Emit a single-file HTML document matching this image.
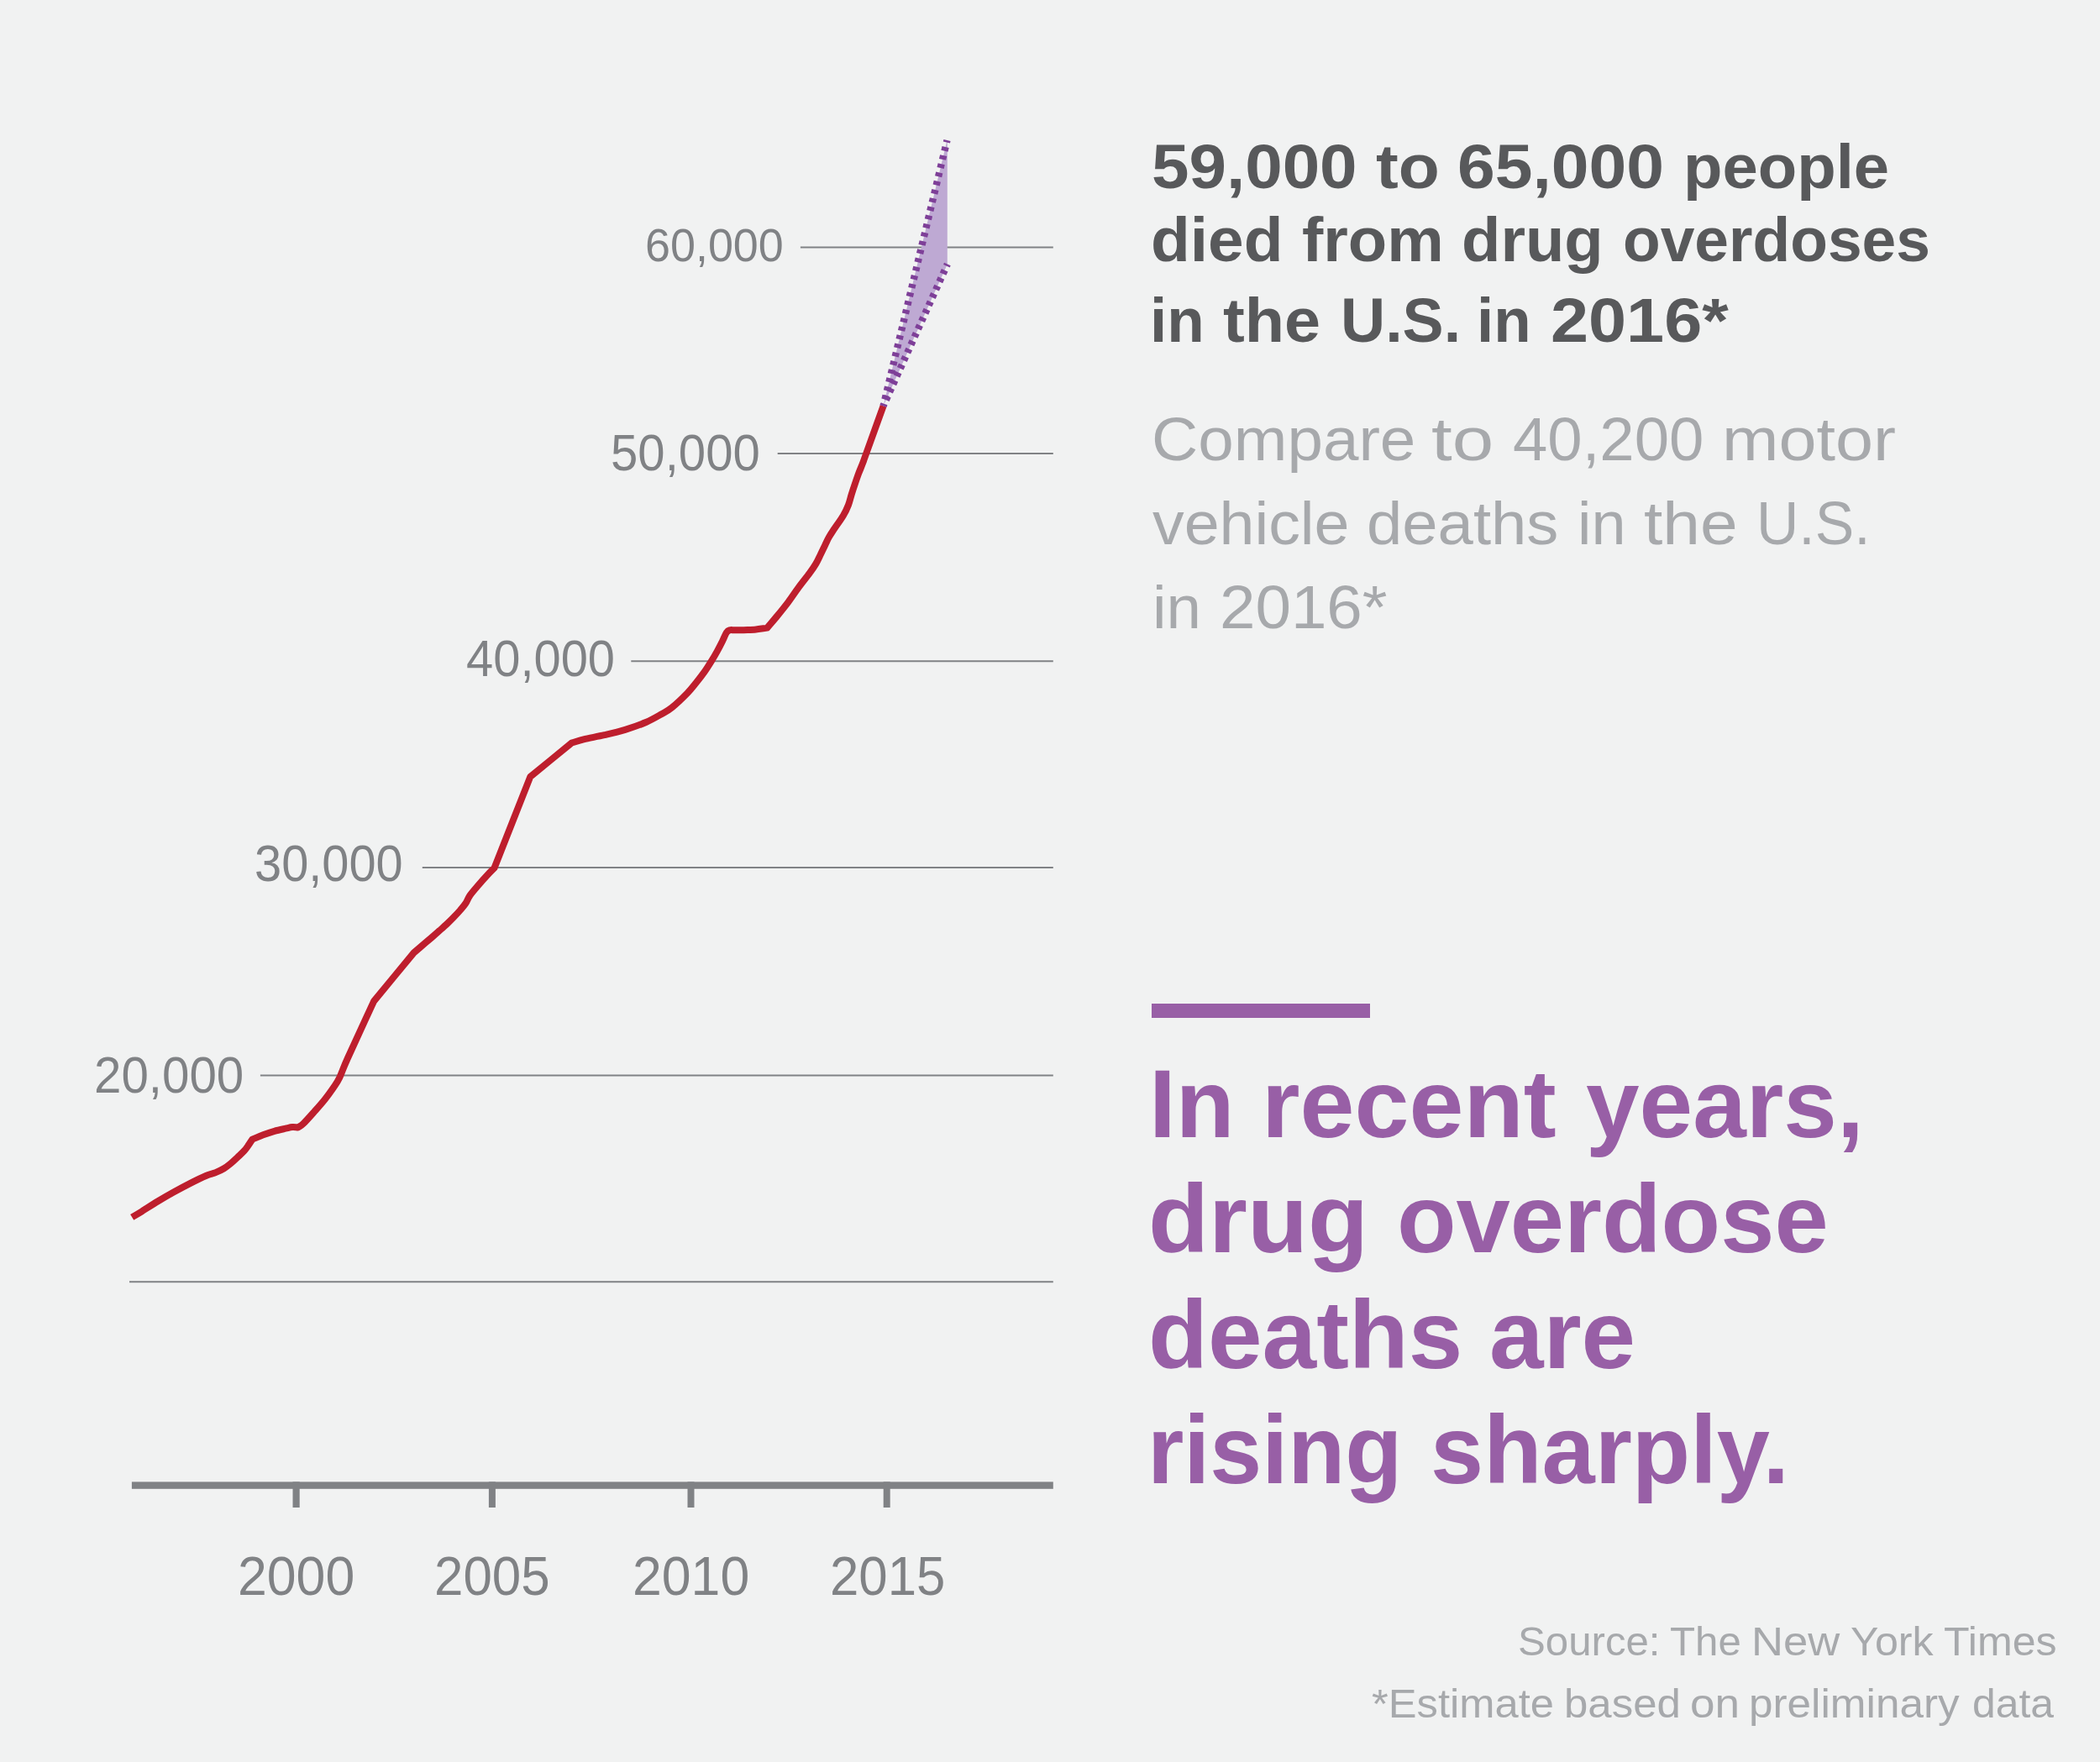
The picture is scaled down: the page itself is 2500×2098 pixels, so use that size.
<!DOCTYPE html>
<html><head><meta charset="utf-8"><title>Drug overdose deaths</title>
<style>
html,body{margin:0;padding:0;background:#f1f2f2;}
body{width:2500px;height:2098px;position:relative;overflow:hidden;font-family:"Liberation Sans",sans-serif;}
.c{position:absolute;left:0;top:0;}
.t{position:absolute;white-space:pre;line-height:1;transform-origin:0 0;}
</style></head><body>
<svg class="c" width="2500" height="2098" viewBox="0 0 2500 2098">
<g stroke="#808285" stroke-width="2" fill="none">
<line x1="952.9" y1="294.5" x2="1253.8" y2="294.5"/>
<line x1="925.7" y1="540.0" x2="1253.8" y2="540.0"/>
<line x1="751.3" y1="787.3" x2="1253.8" y2="787.3"/>
<line x1="502.8" y1="1033.1" x2="1253.8" y2="1033.1"/>
<line x1="309.9" y1="1280.4" x2="1253.8" y2="1280.4"/>
<line x1="154.0" y1="1526.3" x2="1253.8" y2="1526.3"/>
</g>
<rect x="156.9" y="1764.4" width="1096.9" height="8.4" fill="#808285"/>
<rect x="348.5" y="1764.4" width="8.2" height="30.6" fill="#808285"/>
<rect x="581.9" y="1764.4" width="8.0" height="30.6" fill="#808285"/>
<rect x="818.5" y="1764.4" width="8.0" height="30.6" fill="#808285"/>
<rect x="1051.7" y="1764.4" width="8.0" height="30.6" fill="#808285"/>
<polygon points="1051.60,483.30 1127.49,167.09 1127.8,167.09 1127.8,314.52 1127.88,314.52" fill="#bea9d3"/>
<path d="M157.20,1449.40 C161.13,1447.03 163.85,1445.48 169.00,1442.30 C174.15,1439.12 181.75,1434.13 188.10,1430.30 C194.45,1426.47 200.75,1422.83 207.10,1419.30 C213.45,1415.77 219.85,1412.32 226.20,1409.10 C232.55,1405.88 240.12,1402.17 245.20,1400.00 C250.28,1397.83 253.12,1397.57 256.70,1396.10 C260.28,1394.63 263.73,1392.97 266.70,1391.20 C269.67,1389.43 271.80,1387.73 274.50,1385.50 C277.20,1383.27 280.20,1380.33 282.90,1377.80 C285.60,1375.27 288.53,1372.70 290.70,1370.30 C292.87,1367.90 294.30,1365.67 295.90,1363.40 C297.50,1361.13 298.83,1358.93 300.30,1356.70 C304.63,1354.90 308.90,1352.95 313.30,1351.30 C317.70,1349.65 322.25,1348.07 326.70,1346.80 C331.15,1345.53 336.45,1344.48 340.00,1343.70 C343.55,1342.92 345.55,1342.30 348.00,1342.10 C350.45,1341.90 352.47,1342.37 354.70,1342.50 C356.93,1340.87 358.12,1340.78 361.40,1337.60 C364.68,1334.42 370.20,1328.13 374.40,1323.40 C378.60,1318.67 382.83,1313.93 386.60,1309.20 C390.37,1304.47 394.05,1299.37 397.00,1295.00 C399.95,1290.63 401.48,1288.83 404.30,1283.00 C407.12,1277.17 407.10,1275.15 413.90,1260.00 C420.70,1244.85 434.70,1214.73 445.10,1192.10 C460.97,1172.87 476.83,1153.63 492.70,1134.40 C499.83,1128.30 509.02,1120.48 514.10,1116.10 C519.18,1111.72 520.18,1110.78 523.20,1108.10 C526.22,1105.42 529.40,1102.63 532.20,1100.00 C535.00,1097.37 537.35,1095.05 540.00,1092.30 C542.65,1089.55 545.67,1086.33 548.10,1083.50 C550.53,1080.67 552.70,1078.20 554.60,1075.30 C556.50,1072.40 556.97,1069.72 559.50,1066.10 C562.03,1062.48 566.17,1057.82 569.80,1053.60 C573.43,1049.38 578.18,1044.15 581.30,1040.80 C584.42,1037.45 586.10,1035.93 588.50,1033.50 C602.77,997.30 617.03,961.10 631.30,924.90 C647.70,911.47 664.10,898.03 680.50,884.60 C685.27,883.17 688.30,881.87 694.80,880.30 C701.30,878.73 711.25,877.10 719.50,875.20 C727.75,873.30 736.05,871.43 744.30,868.90 C752.55,866.37 761.78,863.12 769.00,860.00 C776.22,856.88 782.43,853.13 787.60,850.20 C792.77,847.27 794.92,846.52 800.00,842.40 C805.08,838.28 813.32,830.40 818.10,825.50 C822.88,820.60 825.27,817.27 828.70,813.00 C832.13,808.73 835.68,804.17 838.70,799.90 C841.72,795.63 844.30,791.45 846.80,787.40 C849.30,783.35 851.52,779.55 853.70,775.60 C855.88,771.65 858.03,767.45 859.90,763.70 C861.77,759.95 863.43,755.33 864.90,753.10 C866.37,750.87 867.13,750.77 868.70,750.30 C870.27,749.83 872.33,750.30 874.30,750.30 C876.27,750.30 877.90,750.35 880.50,750.30 C883.10,750.25 886.65,750.15 889.90,750.00 C893.15,749.85 896.88,749.68 900.00,749.40 C903.12,749.12 906.38,748.60 908.60,748.30 C910.82,748.00 911.73,747.83 913.30,747.60 C917.43,742.70 921.48,738.07 925.70,732.90 C929.92,727.73 934.45,722.15 938.60,716.60 C942.75,711.05 946.40,705.30 950.60,699.60 C954.80,693.90 960.33,687.15 963.80,682.40 C967.27,677.65 969.18,674.88 971.40,671.10 C973.62,667.32 975.25,663.48 977.10,659.70 C978.95,655.92 980.90,651.70 982.50,648.40 C984.10,645.10 985.10,642.75 986.70,639.90 C988.30,637.05 989.22,635.67 992.10,631.30 C994.98,626.93 1001.02,618.72 1004.00,613.70 C1006.98,608.68 1008.38,605.37 1010.00,601.20 C1011.62,597.03 1012.40,592.87 1013.70,588.70 C1015.00,584.53 1016.38,580.37 1017.80,576.20 C1019.22,572.03 1020.63,567.87 1022.20,563.70 C1023.77,559.53 1025.70,555.15 1027.20,551.20 C1028.70,547.25 1027.13,551.32 1031.20,540.00 C1035.27,528.68 1044.80,502.20 1051.60,483.30" fill="none" stroke="#be1e2d" stroke-width="8" stroke-linejoin="round" stroke-linecap="butt"/>
<line x1="1051.6" y1="483.3" x2="1127.49" y2="167.09" stroke="#7e3f98" stroke-width="8.4" stroke-dasharray="4.9 5.59" stroke-dashoffset="2.45"/>
<line x1="1051.6" y1="483.3" x2="1127.88" y2="314.52" stroke="#7e3f98" stroke-width="8.4" stroke-dasharray="4.9 5.39" stroke-dashoffset="2.45"/>
<rect x="1371" y="1195" width="260" height="17" fill="#985fa6"/>
</svg>
<div class="t" style="left:767.59px;top:264.40px;font-size:56.3px;font-weight:400;color:#808285;transform:scaleX(0.9568)">60,000</div>
<div class="t" style="left:727.07px;top:509.30px;font-size:60.3px;font-weight:400;color:#808285;transform:scaleX(0.9641)">50,000</div>
<div class="t" style="left:554.84px;top:754.10px;font-size:60.3px;font-weight:400;color:#808285;transform:scaleX(0.9599)">40,000</div>
<div class="t" style="left:302.88px;top:998.30px;font-size:60.3px;font-weight:400;color:#808285;transform:scaleX(0.9580)">30,000</div>
<div class="t" style="left:112.30px;top:1250.10px;font-size:60.3px;font-weight:400;color:#808285;transform:scaleX(0.9667)">20,000</div>
<div class="t" style="left:282.74px;top:1844.00px;font-size:65.6px;font-weight:400;color:#808285;transform:scaleX(0.9539)">2000</div>
<div class="t" style="left:516.67px;top:1844.00px;font-size:65.6px;font-weight:400;color:#808285;transform:scaleX(0.9433)">2005</div>
<div class="t" style="left:752.74px;top:1844.00px;font-size:65.6px;font-weight:400;color:#808285;transform:scaleX(0.9539)">2010</div>
<div class="t" style="left:987.88px;top:1844.00px;font-size:65.6px;font-weight:400;color:#808285;transform:scaleX(0.9411)">2015</div>
<div class="t" style="left:1370.94px;top:162.20px;font-size:74px;font-weight:700;color:#58595b;transform:scaleX(1.0806)">59,000</div>
<div class="t" style="left:1638.20px;top:162.20px;font-size:74px;font-weight:700;color:#58595b;transform:scaleX(1.0851)">to</div>
<div class="t" style="left:1735.03px;top:162.20px;font-size:74px;font-weight:700;color:#58595b;transform:scaleX(1.0869)">65,000</div>
<div class="t" style="left:2003.59px;top:162.20px;font-size:74px;font-weight:700;color:#58595b;transform:scaleX(1.0280)">people</div>
<div class="t" style="left:1370.19px;top:249.00px;font-size:74px;font-weight:700;color:#58595b;transform:scaleX(1.0352)">died</div>
<div class="t" style="left:1550.47px;top:249.00px;font-size:74px;font-weight:700;color:#58595b;transform:scaleX(1.0264)">from</div>
<div class="t" style="left:1740.42px;top:249.00px;font-size:74px;font-weight:700;color:#58595b;transform:scaleX(1.0261)">drug</div>
<div class="t" style="left:1931.62px;top:249.00px;font-size:74px;font-weight:700;color:#58595b;transform:scaleX(0.9885)">overdoses</div>
<div class="t" style="left:1369.28px;top:344.60px;font-size:74px;font-weight:700;color:#58595b;transform:scaleX(0.9842)">in</div>
<div class="t" style="left:1456.00px;top:344.60px;font-size:74px;font-weight:700;color:#58595b;transform:scaleX(1.0459)">the</div>
<div class="t" style="left:1595.72px;top:344.60px;font-size:74px;font-weight:700;color:#58595b;transform:scaleX(0.9941)">U.S.</div>
<div class="t" style="left:1758.19px;top:344.60px;font-size:74px;font-weight:700;color:#58595b;transform:scaleX(0.9825)">in</div>
<div class="t" style="left:1845.61px;top:344.60px;font-size:74px;font-weight:700;color:#58595b;transform:scaleX(1.0948)">2016*</div>
<div class="t" style="left:1371.06px;top:486.00px;font-size:73px;font-weight:400;color:#a7a9ac;transform:scaleX(1.0471)">Compare</div>
<div class="t" style="left:1704.48px;top:486.00px;font-size:73px;font-weight:400;color:#a7a9ac;transform:scaleX(1.2175)">to</div>
<div class="t" style="left:1801.28px;top:486.00px;font-size:73px;font-weight:400;color:#a7a9ac;transform:scaleX(1.0182)">40,200</div>
<div class="t" style="left:2050.36px;top:486.00px;font-size:73px;font-weight:400;color:#a7a9ac;transform:scaleX(1.1093)">motor</div>
<div class="t" style="left:1371.90px;top:585.60px;font-size:73px;font-weight:400;color:#a7a9ac;transform:scaleX(1.0320)">vehicle</div>
<div class="t" style="left:1627.17px;top:585.60px;font-size:73px;font-weight:400;color:#a7a9ac;transform:scaleX(1.0421)">deaths</div>
<div class="t" style="left:1878.15px;top:585.60px;font-size:73px;font-weight:400;color:#a7a9ac;transform:scaleX(1.0122)">in</div>
<div class="t" style="left:1956.90px;top:585.60px;font-size:73px;font-weight:400;color:#a7a9ac;transform:scaleX(1.1010)">the</div>
<div class="t" style="left:2090.73px;top:585.60px;font-size:73px;font-weight:400;color:#a7a9ac;transform:scaleX(0.9550)">U.S.</div>
<div class="t" style="left:1371.82px;top:685.80px;font-size:73px;font-weight:400;color:#a7a9ac;transform:scaleX(1.0204)">in</div>
<div class="t" style="left:1452.16px;top:685.80px;font-size:73px;font-weight:400;color:#a7a9ac;transform:scaleX(1.0455)">2016*</div>
<div class="t" style="left:1367.75px;top:1257.00px;font-size:115px;font-weight:700;color:#985fa6;transform:scaleX(0.9933)">In</div>
<div class="t" style="left:1501.69px;top:1257.00px;font-size:115px;font-weight:700;color:#985fa6;transform:scaleX(1.0160)">recent</div>
<div class="t" style="left:1887.91px;top:1257.00px;font-size:115px;font-weight:700;color:#985fa6;transform:scaleX(0.9944)">years,</div>
<div class="t" style="left:1366.80px;top:1394.20px;font-size:115px;font-weight:700;color:#985fa6;transform:scaleX(1.0250)">drug</div>
<div class="t" style="left:1662.88px;top:1394.20px;font-size:115px;font-weight:700;color:#985fa6;transform:scaleX(1.0046)">overdose</div>
<div class="t" style="left:1366.86px;top:1532.30px;font-size:115px;font-weight:700;color:#985fa6;transform:scaleX(1.0102)">deaths</div>
<div class="t" style="left:1773.27px;top:1532.30px;font-size:115px;font-weight:700;color:#985fa6;transform:scaleX(1.0084)">are</div>
<div class="t" style="left:1366.22px;top:1669.40px;font-size:115px;font-weight:700;color:#985fa6;transform:scaleX(0.9689)">rising</div>
<div class="t" style="left:1702.65px;top:1669.40px;font-size:115px;font-weight:700;color:#985fa6;transform:scaleX(0.9872)">sharply.</div>
<div class="t" style="left:1806.67px;top:1929.80px;font-size:48.5px;font-weight:400;color:#a7a9ac;transform:scaleX(1.0143)">Source:</div>
<div class="t" style="left:1988.19px;top:1929.80px;font-size:48.5px;font-weight:400;color:#a7a9ac;transform:scaleX(1.0148)">The</div>
<div class="t" style="left:2085.34px;top:1929.80px;font-size:48.5px;font-weight:400;color:#a7a9ac;transform:scaleX(1.0851)">New</div>
<div class="t" style="left:2203.26px;top:1929.80px;font-size:48.5px;font-weight:400;color:#a7a9ac;transform:scaleX(1.0351)">York</div>
<div class="t" style="left:2313.87px;top:1929.80px;font-size:48.5px;font-weight:400;color:#a7a9ac;transform:scaleX(1.0336)">Times</div>
<div class="t" style="left:1633.25px;top:2004.00px;font-size:48.5px;font-weight:400;color:#a7a9ac;transform:scaleX(1.0454)">*Estimate</div>
<div class="t" style="left:1861.75px;top:2004.00px;font-size:48.5px;font-weight:400;color:#a7a9ac;transform:scaleX(1.0508)">based</div>
<div class="t" style="left:2012.21px;top:2004.00px;font-size:48.5px;font-weight:400;color:#a7a9ac;transform:scaleX(1.0939)">on</div>
<div class="t" style="left:2082.43px;top:2004.00px;font-size:48.5px;font-weight:400;color:#a7a9ac;transform:scaleX(1.0568)">preliminary</div>
<div class="t" style="left:2347.95px;top:2004.00px;font-size:48.5px;font-weight:400;color:#a7a9ac;transform:scaleX(1.0269)">data</div>
</body></html>
